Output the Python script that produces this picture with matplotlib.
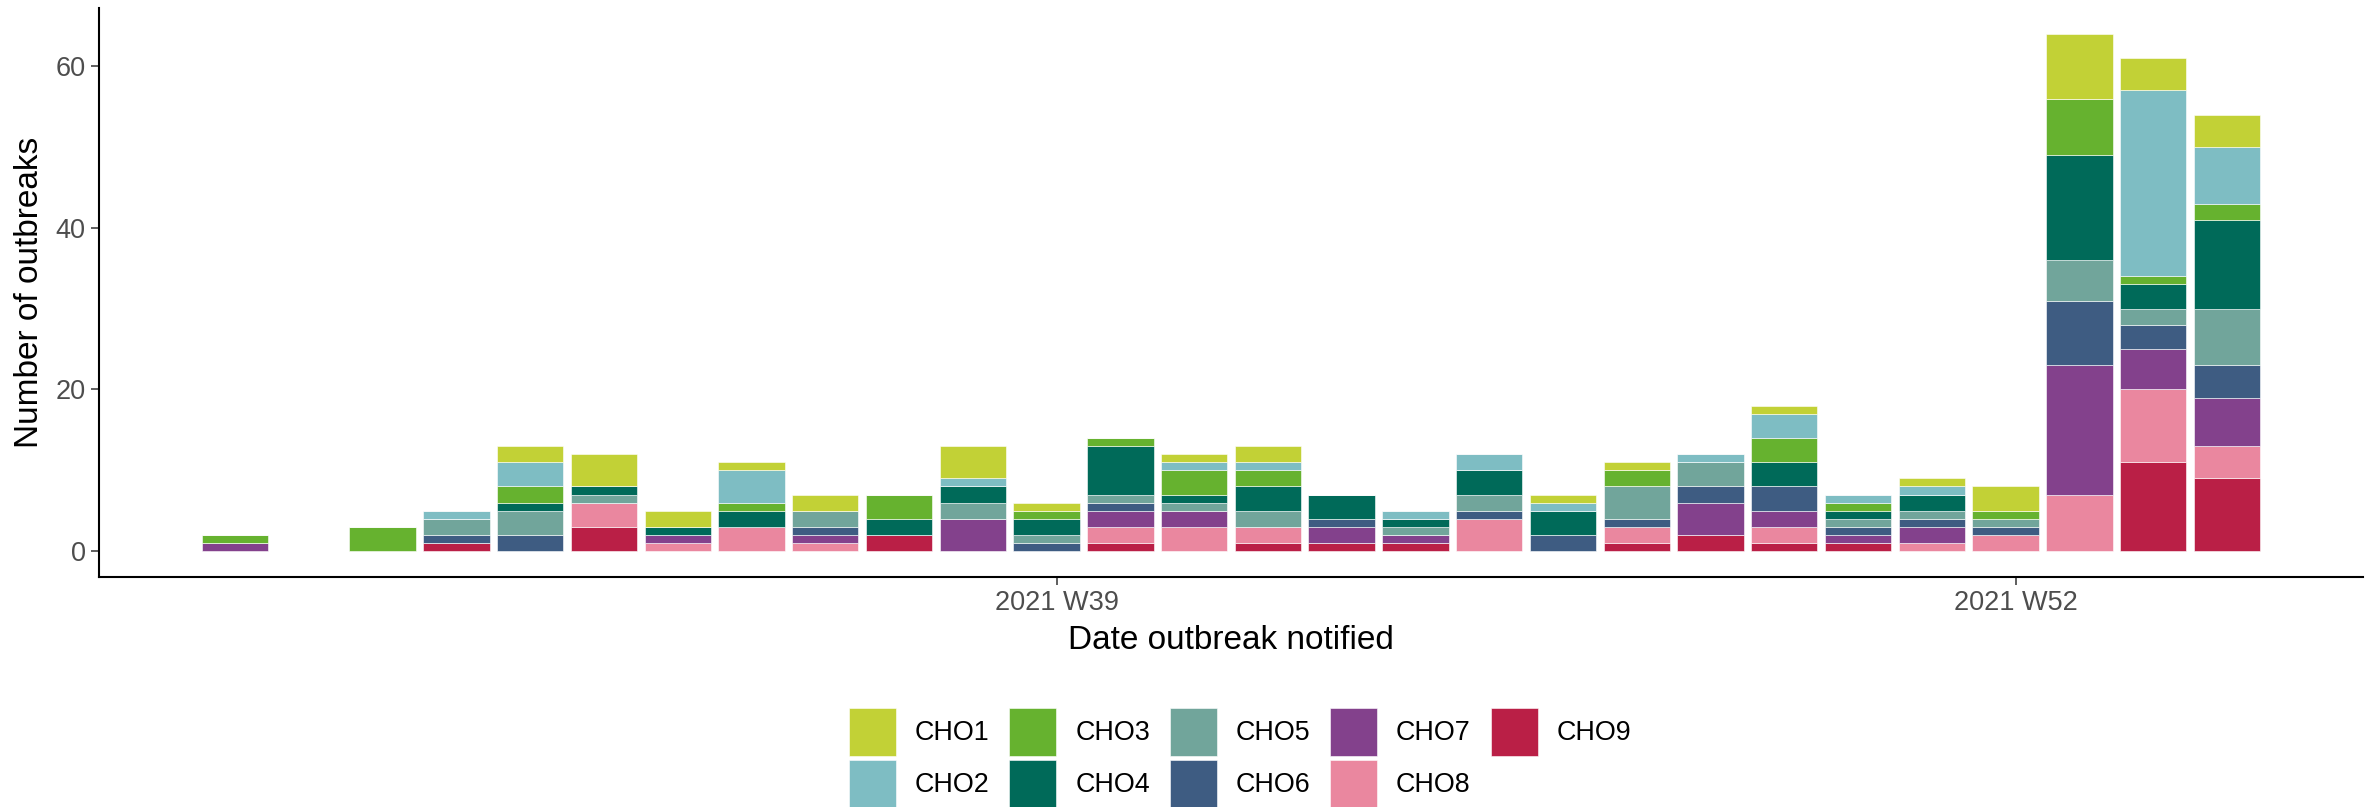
import numpy as np
import pandas as pd
import matplotlib
matplotlib.use('Agg')
import matplotlib.pyplot as plt
import matplotlib.dates as mdates

plt.rcParams['font.family'] = ['Liberation Sans', 'DejaVu Sans']

# week of notification (week start, Sunday)
weeks = ['2021-07-11', '2021-07-25', '2021-08-01', '2021-08-08', '2021-08-15',
         '2021-08-22', '2021-08-29', '2021-09-05', '2021-09-12', '2021-09-19',
         '2021-09-26', '2021-10-03', '2021-10-10', '2021-10-17', '2021-10-24',
         '2021-10-31', '2021-11-07', '2021-11-14', '2021-11-21', '2021-11-28',
         '2021-12-05', '2021-12-12', '2021-12-19', '2021-12-26', '2022-01-02',
         '2022-01-09', '2022-01-16']

# outbreaks per health organisation
cho1 = [0, 0, 0, 2, 4, 2, 1, 2, 0, 4, 1, 0, 1, 2, 0, 0, 0, 1, 1, 0, 1, 0, 1, 3, 8, 4, 4]
cho2 = [0, 0, 1, 3, 0, 0, 4, 0, 0, 1, 0, 0, 1, 1, 0, 1, 2, 1, 0, 1, 3, 1, 1, 0, 0, 23, 7]
cho3 = [1, 3, 0, 2, 0, 0, 1, 0, 3, 0, 1, 1, 3, 2, 0, 0, 0, 0, 2, 0, 3, 1, 0, 1, 7, 1, 2]
cho4 = [0, 0, 0, 1, 1, 1, 2, 0, 2, 2, 2, 6, 1, 3, 3, 1, 3, 3, 0, 0, 3, 1, 2, 0, 13, 3, 11]
cho5 = [0, 0, 2, 3, 1, 0, 0, 2, 0, 2, 1, 1, 1, 2, 0, 1, 2, 0, 4, 3, 0, 1, 1, 1, 5, 2, 7]
cho6 = [0, 0, 1, 2, 0, 0, 0, 1, 0, 0, 1, 1, 0, 0, 1, 0, 1, 2, 1, 2, 3, 1, 1, 1, 8, 3, 4]
cho7 = [1, 0, 0, 0, 0, 1, 0, 1, 0, 4, 0, 2, 2, 0, 2, 1, 0, 0, 0, 4, 2, 1, 2, 0, 16, 5, 6]
cho8 = [0, 0, 0, 0, 3, 1, 3, 1, 0, 0, 0, 2, 3, 2, 0, 0, 4, 0, 2, 0, 2, 0, 1, 2, 7, 9, 4]
cho9 = [0, 0, 1, 0, 3, 0, 0, 0, 2, 0, 0, 1, 0, 1, 1, 1, 0, 0, 1, 2, 1, 1, 0, 0, 0, 11, 9]

labels = ['CHO1', 'CHO2', 'CHO3', 'CHO4', 'CHO5', 'CHO6', 'CHO7', 'CHO8', 'CHO9']
colors = ['#C2D136', '#7EBDC3', '#66B22F', '#006A59', '#71A59B',
          '#3E5C82', '#83418C', '#EA879F', '#BA1F46']
tick_dates = ['2021-09-27', '2021-12-27']

series = [cho1, cho2, cho3, cho4, cho5, cho6, cho7, cho8, cho9]
x = pd.to_datetime(weeks)
width = 6.3  # days, 0.9 of a week

fig = plt.figure(figsize=(23.69, 8.07), dpi=100)
ax = fig.add_axes([99 / 2369, 1 - 577 / 807, (2363 - 99) / 2369, (577 - 8) / 807])

# stack from CHO9 at the bottom up to CHO1
bottom = np.zeros(len(weeks))
handles = {}
for lab, col, vals in reversed(list(zip(labels, colors, series))):
    v = np.array(vals, dtype=float)
    b = ax.bar(x, v, width=width, bottom=bottom, color=col, label=lab,
               edgecolor='white', linewidth=0.4)
    handles[lab] = b
    bottom += v

# ggplot-like 5% expansion
x0 = mdates.date2num(x.min()) - width / 2
x1 = mdates.date2num(x.max()) + width / 2
ax.set_xlim(x0 - 0.05 * (x1 - x0), x1 + 0.05 * (x1 - x0))
ymax = bottom.max()
ax.set_ylim(-0.05 * ymax, ymax * 1.05)

ax.set_yticks([0, 20, 40, 60])
tk = pd.to_datetime(tick_dates)
ax.set_xticks(mdates.date2num(tk))
ax.set_xticklabels([d.strftime('%G W%V') for d in tk])

for s in ['top', 'right']:
    ax.spines[s].set_visible(False)
for s in ['left', 'bottom']:
    ax.spines[s].set_linewidth(1.5)
    ax.spines[s].set_color('black')
ax.tick_params(axis='both', length=5.5, width=1.1, color='#333333',
               labelsize=19.5, labelcolor='#4D4D4D', pad=4)

ax.set_xlabel('Date outbreak notified', fontsize=24, labelpad=6)
ax.set_ylabel('Number of outbreaks', fontsize=24, labelpad=8)

fig.legend([handles[l] for l in labels], labels, ncol=5, loc='center',
           bbox_to_anchor=(1240 / 2369, 1 - 758 / 807), frameon=False,
           fontsize=19.4, handlelength=1.74, handleheight=2.36,
           handletextpad=0.7, columnspacing=0.74, labelspacing=0.15,
           borderpad=0)

fig.savefig('out.png', dpi=100)
